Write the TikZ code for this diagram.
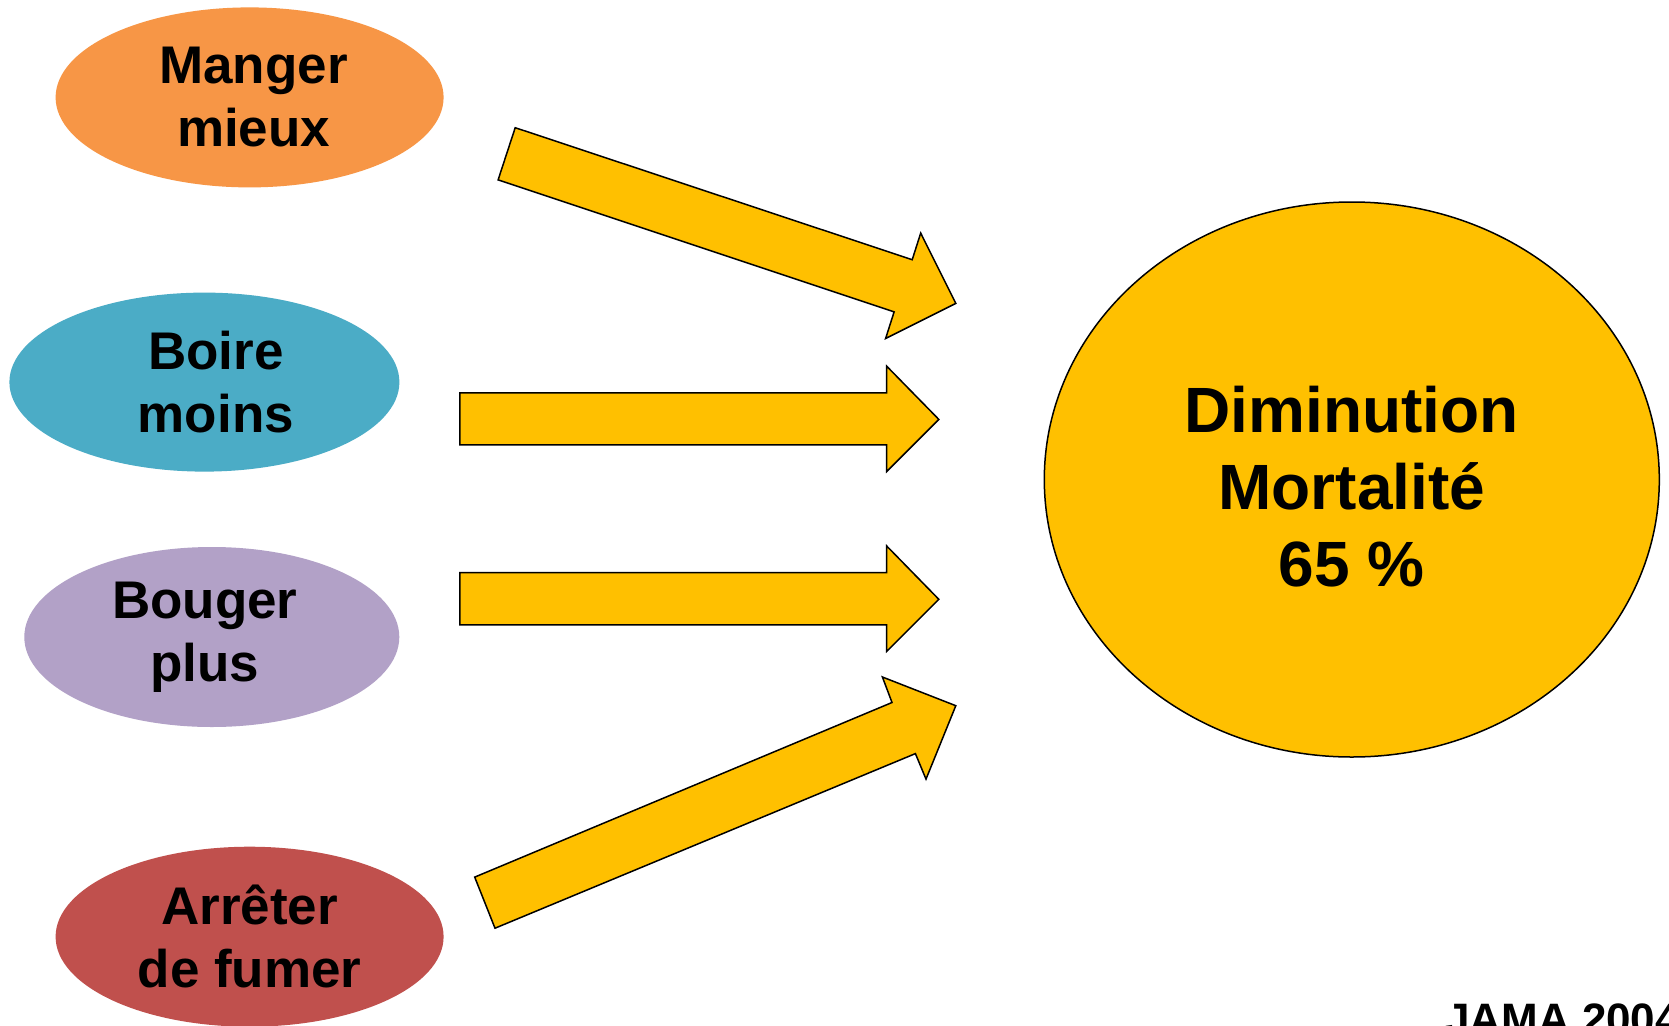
\documentclass[tikz,border=0pt]{standalone}
\usepackage{fontspec}
\setmainfont{Liberation Sans}
\usetikzlibrary{shapes.geometric}
\definecolor{cOrange}{HTML}{F79646}
\definecolor{cBlue}{HTML}{4BACC6}
\definecolor{cPurple}{HTML}{B2A1C7}
\definecolor{cRed}{HTML}{C0504D}
\definecolor{cGold}{HTML}{FFC000}
\tikzset{
  habit/.style={ellipse, inner sep=0pt, minimum width=388pt, minimum height=180pt},
  habittext/.style={inner sep=0pt, align=center, font=\fontsize{53}{63}\selectfont\bfseries},
  blockarrow/.style={fill=cGold, draw=black, line width=1.5pt, line join=miter},
  goal/.style={ellipse, inner sep=0pt, draw=black, line width=1.5pt, fill=cGold,
    minimum width=615pt, minimum height=555pt},
  goaltext/.style={inner sep=0pt, align=center, font=\fontsize{64}{77}\selectfont\bfseries}
}
\begin{document}
\begin{tikzpicture}[x=1pt, y=-1pt]
  \useasboundingbox[fill=white] (0,0) rectangle (1669,1025);

  % lifestyle changes
  \node[habit, fill=cOrange] (manger) at (249.6,97.4) {};
  \node[habittext] (mangerT) at ([xshift=4pt]manger.center) {Manger\\mieux};
  \node[habit, fill=cBlue, minimum width=390pt, minimum height=179pt] (boire) at (204.4,382.1) {};
  \node[habittext] (boireT) at ([xshift=11.5pt]boire.center) {Boire\\moins};
  \node[habit, fill=cPurple, minimum width=375pt] (bouger) at (211.8,637) {};
  \node[habittext] (bougerT) at ([xshift=-7pt]bouger.center) {Bouger\\plus};
  \node[habit, fill=cRed] (fumer) at (249.6,936.7) {};
  \node[habittext] (fumerT) at (fumer.center) {Arrêter\\de fumer};

  % outcome
  \node[goal] (mort) at (1351.8,479.5) {};
  \node[goaltext] (mortT) at ([yshift=-7.5pt]mort.center) {Diminution\\Mortalité\\65 \%};

  % block arrows
  \draw[blockarrow] (515.2,127.7) -- (912.2,259.7) -- (920.7,233.1) -- (955.8,303.4)
    -- (885.6,338.5) -- (894.1,311.9) -- (498.1,179.9) -- cycle;
  \draw[blockarrow] (459.8,392.8) -- (886.7,392.8) -- (886.7,366.2) -- (938.8,419.4)
    -- (886.7,471.5) -- (886.7,444.9) -- (459.8,444.9) -- cycle;
  \draw[blockarrow] (459.8,572.6) -- (886.7,572.6) -- (886.7,546.0) -- (938.8,599.3)
    -- (886.7,651.4) -- (886.7,624.8) -- (459.8,624.8) -- cycle;
  \draw[blockarrow] (474.7,877.1) -- (892.0,702.5) -- (882.4,677.0) -- (955.8,705.7)
    -- (926.0,779.1) -- (915.4,753.6) -- (495.0,928.2) -- cycle;

  % source
  \node[anchor=base west, inner sep=0pt, font=\fontsize{44}{50}\selectfont\bfseries]
    (source) at (1445,1034.5) {JAMA 2004};
\end{tikzpicture}
\end{document}
